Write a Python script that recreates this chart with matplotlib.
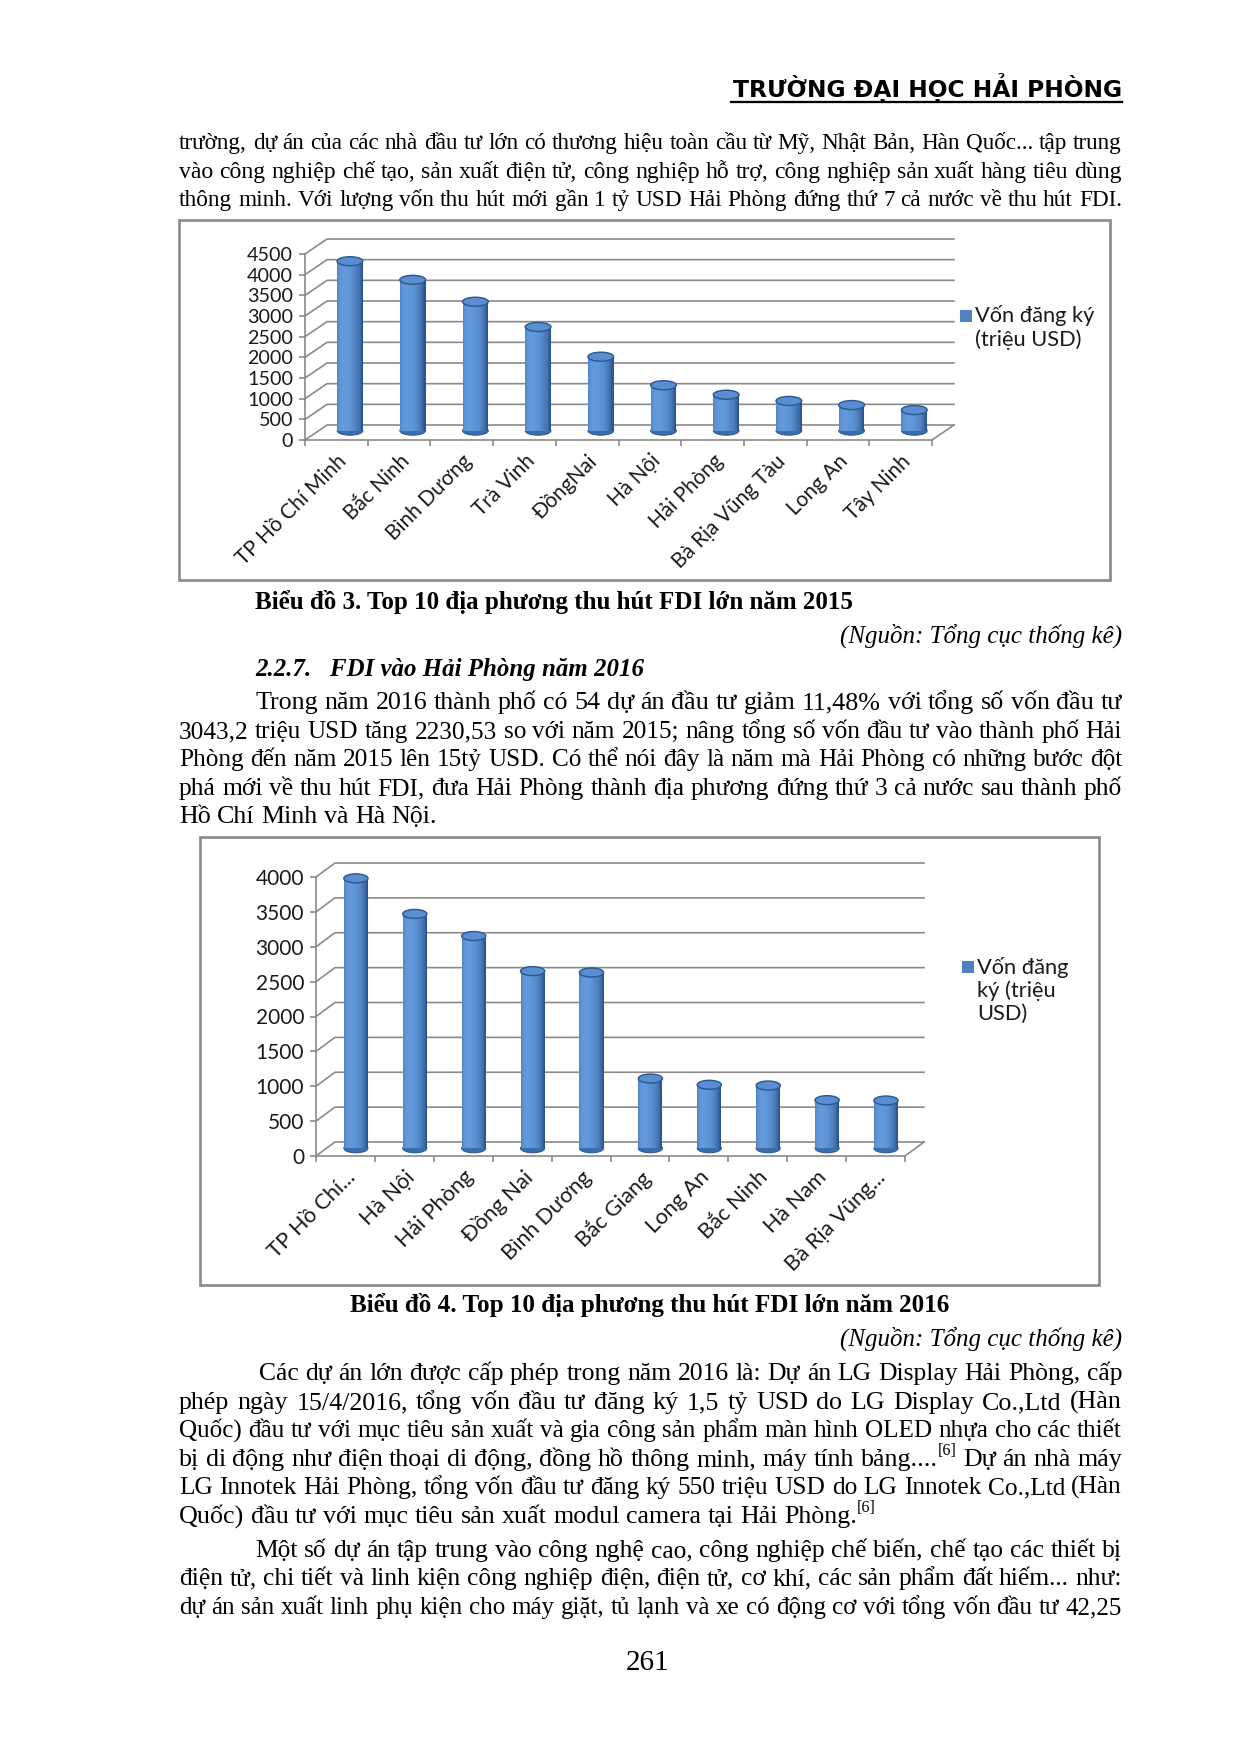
import matplotlib
matplotlib.use('Agg')
import matplotlib.pyplot as plt
import numpy as np
from matplotlib.patches import Ellipse, Rectangle

# ---------------------------------------------------------------
# DATA
# ---------------------------------------------------------------
cats_2015 = ['TP Hồ Chí Minh', 'Bắc Ninh', 'Bình Dương', 'Trà Vinh', 'ĐồngNai',
             'Hà Nội', 'Hải Phòng', 'Bà Rịa Vũng Tàu', 'Long An', 'Tây Ninh']
vals_2015 = [4100, 3650, 3120, 2510, 1790, 1100, 870, 720, 620, 500]

cats_2016 = ['TP Hồ Chí...', 'Hà Nội', 'Hải Phòng', 'Đồng Nai', 'Bình Dương',
             'Bắc Giang', 'Long An', 'Bắc Ninh', 'Hà Nam', 'Bà Rịa Vũng...']
vals_2016 = [3870, 3360, 3043, 2540, 2520, 1000, 910, 900, 690, 685]

legend_2015 = ['Vốn đăng ký', '(triệu USD)']
legend_2016 = ['Vốn đăng', 'ký (triệu', 'USD)']

header = 'TRƯỜNG ĐẠI HỌC HẢI PHÒNG'
para1 = ['trường, dự án của các nhà đầu tư lớn có thương hiệu toàn cầu từ Mỹ, Nhật Bản, Hàn Quốc... tập trung',
         'vào công nghiệp chế tạo, sản xuất điện tử, công nghiệp hỗ trợ, công nghiệp sản xuất hàng tiêu dùng',
         'thông minh. Với lượng vốn thu hút mới gần 1 tỷ USD Hải Phòng đứng thứ 7 cả nước về thu hút FDI.']
caption1 = 'Biểu đồ 3. Top 10 địa phương thu hút FDI lớn năm 2015'
source = '(Nguồn: Tổng cục thống kê)'
heading = '2.2.7.   FDI vào Hải Phòng năm 2016'
para2 = ['Trong năm 2016 thành phố có 54 dự án đầu tư giảm 11,48% với tổng số vốn đầu tư',
         '3043,2 triệu USD tăng  2230,53 so với năm 2015; nâng tổng số vốn đầu tư vào thành phố Hải',
         'Phòng đến năm 2015 lên 15tỷ USD. Có thể nói đây là năm mà Hải Phòng có những bước đột',
         'phá mới về thu hút FDI, đưa Hải Phòng thành địa phương đứng thứ 3 cả nước sau thành phố',
         'Hồ Chí Minh và Hà Nội.']
caption2 = 'Biểu đồ 4. Top 10 địa phương thu hút FDI lớn năm 2016'
para3 = ['Các dự án lớn được cấp phép trong năm 2016 là: Dự án LG Display Hải Phòng, cấp',
         'phép ngày 15/4/2016, tổng vốn đầu tư đăng ký 1,5 tỷ USD do LG Display Co.,Ltd (Hàn',
         'Quốc) đầu tư với mục tiêu sản xuất và gia công sản phẩm màn hình OLED nhựa cho các thiết',
         'bị di động như điện thoại di động, đồng hồ thông minh, máy tính bảng....^[6] Dự án nhà máy',
         'LG Innotek Hải Phòng, tổng vốn đầu tư đăng ký 550 triệu USD do LG Innotek Co.,Ltd (Hàn',
         'Quốc) đầu tư với mục tiêu sản xuất modul camera tại Hải Phòng.^[6]']
para4 = ['Một số dự án tập trung vào công nghệ cao, công nghiệp chế biến, chế tạo các thiết bị',
         'điện tử, chi tiết và linh kiện công nghiệp điện, điện tử, cơ khí, các sản phẩm đất hiếm... như:',
         'dự án sản xuất linh phụ kiện cho máy giặt, tủ lạnh và xe có động cơ với tổng vốn đầu tư 42,25']
page_no = '261'

# ---------------------------------------------------------------
# PAGE SETUP
# ---------------------------------------------------------------
W, H, DPI = 1240, 1754, 150
PX = DPI / 72.0
SERIF = 'Liberation Serif'
SANS = ['Lato', 'DejaVu Sans']
BLUE = '#4F81BD'
GRID = '#8a8a8a'

plt.rcParams['font.family'] = SANS

fig = plt.figure(figsize=(W / DPI, H / DPI), dpi=DPI)
page = fig.add_axes([0, 0, 1, 1])
page.set_xlim(0, W)
page.set_ylim(H, 0)
page.axis('off')
renderer = fig.canvas.get_renderer()

LEFT, RIGHT = 179, 1122


def width_of(t):
    return t.get_window_extent(renderer).width


def put_line(text, xl, y, fs=12.5, justify=True, xr=RIGHT, **kw):
    tokens = text.split()
    avail = xr - xl
    for _ in range(4):
        arts = []
        for tok in tokens:
            base, _, sup = tok.partition('^')
            a = page.text(0, y, base, fontsize=fs, family=SERIF, va='baseline', **kw)
            s = None
            if sup:
                s = page.text(0, y - 0.42 * fs * PX, sup, fontsize=fs * 0.62,
                              family=SERIF, va='baseline', **kw)
            arts.append((a, s))
        widths = [width_of(a) + (width_of(s) if s else 0) for a, s in arts]
        space = 0.25 * fs * PX
        natural = sum(widths) + space * (len(tokens) - 1)
        if natural <= avail + 0.5:
            break
        for a, s in arts:
            a.remove()
            if s:
                s.remove()
        fs = fs * avail / natural * 0.998
    if justify and len(tokens) > 1:
        gap = (avail - sum(widths)) / (len(tokens) - 1)
    else:
        gap = space
    x = xl
    for (a, s), w in zip(arts, widths):
        a.set_x(x)
        if s:
            s.set_x(x + width_of(a))
        x += w + gap


def fit_text(x, y, s, target, fs=12, **kw):
    t = page.text(x, y, s, fontsize=fs, va='baseline', **kw)
    t.set_fontsize(fs * target / width_of(t))
    return t


def paragraph(lines, baselines, indent, last_justified=False):
    for i, (ln, yb) in enumerate(zip(lines, baselines)):
        xl = indent if i == 0 else LEFT
        last = i == len(lines) - 1
        put_line(ln, xl, yb, justify=(not last) or last_justified)


def chart(box, front, depth, cats, vals, ymax, bar_depth, leg_lines, leg_x, leg_y, leg_dy,
          ysize=9.5, xsize=10.5):
    bx0, by0, bx1, by1 = box
    page.add_patch(Rectangle((bx0, by0), bx1 - bx0, by1 - by0, fill=False,
                             ec='#8c8c8c', lw=1.3))
    fx0, fx1, fy0, fyt = front
    ax = fig.add_axes([fx0 / W, 1 - fy0 / H, (fx1 - fx0) / W, (fy0 - fyt) / H])
    n = len(cats)
    ax.set_xlim(0, n)
    ax.set_ylim(0, ymax)
    ax.patch.set_alpha(0)
    cat_px = (fx1 - fx0) / n
    val_px = (fy0 - fyt) / ymax
    ddx = depth[0] / cat_px
    ddy = depth[1] / val_px

    ticks = np.arange(0, ymax + 1, 500)
    for v in ticks:
        ax.plot([0, ddx, n + ddx], [v, v + ddy, v + ddy], color=GRID, lw=0.8,
                clip_on=False, zorder=1)
    ax.plot([n, n + ddx], [0, ddy], color=GRID, lw=0.8, clip_on=False, zorder=1)

    for side in ['top', 'right']:
        ax.spines[side].set_visible(False)
    for side in ['left', 'bottom']:
        ax.spines[side].set_color(GRID)
        ax.spines[side].set_linewidth(0.8)

    ax.set_yticks(ticks)
    ax.set_yticklabels([str(int(t)) for t in ticks])
    ax.tick_params(axis='y', length=6 / PX, width=0.8, color=GRID, pad=6 / PX,
                   labelsize=ysize, labelcolor='#1a1a1a')
    ax.set_xticks(np.arange(n) + 0.5)
    ax.set_xticklabels(cats, rotation=45, ha='right', rotation_mode='anchor')
    ax.set_xticks(np.arange(n + 1), minor=True)
    ax.tick_params(axis='x', which='major', length=0, pad=11 / PX, labelsize=xsize,
                   labelcolor='#1a1a1a')
    ax.tick_params(axis='x', which='minor', length=6 / PX, width=0.8, color=GRID)

    # cylinders
    x = np.arange(n) + 0.5 + bar_depth * ddx
    base = bar_depth * ddy
    bw = 0.41
    eh = 9 / val_px
    ns = 24
    dark = np.array([0.17, 0.33, 0.55])
    light = np.array([0.38, 0.60, 0.86])
    for cx in x:
        ax.add_patch(Ellipse((cx, base), bw, eh, fc='#3b6dab', ec='#2f5a90', lw=0.5,
                             zorder=3, clip_on=False))
    for j in range(ns):
        t = (j + 0.5) / ns * 2 - 1
        theta = np.arcsin(t)
        diff = max(0.0, np.cos(theta + 0.45))
        col = dark + (light - dark) * diff ** 0.8
        ax.bar(x - bw / 2 + (j + 0.5) * bw / ns, vals, width=bw / ns * 1.05, bottom=base,
               color=col, lw=0, zorder=4, clip_on=False)
    for cx, v in zip(x, vals):
        ax.add_patch(Ellipse((cx, base + v), bw, eh, fc='#5a8ed0', ec='#2c5a92', lw=0.7,
                             zorder=5, clip_on=False))

    # legend
    page.add_patch(Rectangle((leg_x - 5, leg_y - 5), 10, 10, color=BLUE))
    for k, ln in enumerate(leg_lines):
        page.text(leg_x + 9, leg_y + k * leg_dy, ln, va='center', fontsize=10.5,
                  color='#1a1a1a')
    return ax


# ---------------------------------------------------------------
# TEXT
# ---------------------------------------------------------------
h = fit_text(RIGHT, 97, header, 391, fs=11.5, ha='right', family='DejaVu Sans',
             weight='bold')
page.plot([RIGHT - 391, RIGHT], [101.5, 101.5], color='black', lw=1.1)

paragraph(para1, [149, 178, 206], LEFT, last_justified=True)
fit_text(255, 609, caption1, 598, fs=12.5, family=SERIF, weight='bold')
fit_text(RIGHT, 643, source, 281, fs=12.5, ha='right', family=SERIF, style='italic')
fit_text(255, 676, heading, 388, fs=12.5, family=SERIF, weight='bold', style='italic')
paragraph(para2, [709, 738, 766, 795, 823], 255)
fit_text(650, 1312, caption2, 600, fs=12.5, ha='center', family=SERIF, weight='bold')
fit_text(RIGHT, 1346, source, 281, fs=12.5, ha='right', family=SERIF, style='italic')
paragraph(para3, [1380, 1409, 1437, 1466, 1494, 1523], 259)
paragraph(para4, [1557, 1585, 1614], 255, last_justified=True)
page.text(648, 1670, page_no, ha='center', va='baseline', fontsize=14, family=SERIF)

# ---------------------------------------------------------------
# CHARTS
# ---------------------------------------------------------------
chart((179, 220, 1110, 580), (305, 932, 440, 254), (22, 15), cats_2015, vals_2015,
      4500, 0.62, legend_2015, 966, 316, 24, ysize=9.5, xsize=10)
chart((200, 837, 1099, 1285), (316, 905, 1156, 877), (19, 14), cats_2016, vals_2016,
      4000, 0.55, legend_2016, 968, 967, 23.5, ysize=10, xsize=10.5)

fig.savefig('out.png', dpi=DPI)
